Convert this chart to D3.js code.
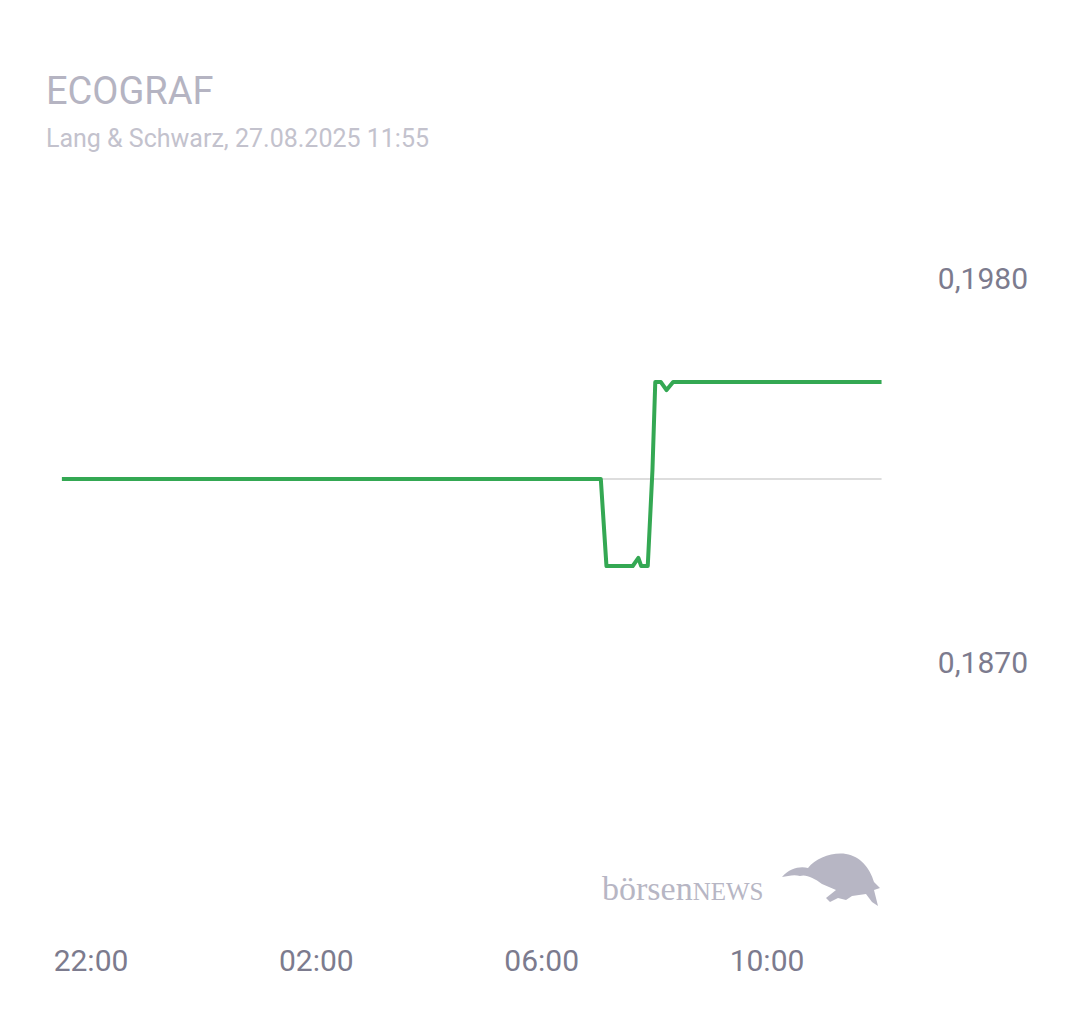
<!DOCTYPE html>
<html><head><meta charset="utf-8">
<script src="https://cdn.jsdelivr.net/npm/d3@7"></script>
<style>body{margin:0;background:#fff}svg{display:block;font-family:Roboto,sans-serif}</style>
</head><body><svg id="c" width="1080" height="1013"></svg>
<script>
// price series (Lang & Schwarz, 26./27.08.2025)
const times = ["2025-08-26 21:29","2025-08-27 07:03","2025-08-27 07:09","2025-08-27 07:37","2025-08-27 07:43","2025-08-27 07:46","2025-08-27 07:53","2025-08-27 07:58","2025-08-27 08:01","2025-08-27 08:07","2025-08-27 08:13","2025-08-27 08:20","2025-08-27 12:02"];
const prices = [0.19224,0.19224,0.18975,0.18975,0.18998,0.18975,0.18975,0.1925,0.19502,0.19502,0.19479,0.19502,0.19502];
const refPrice = 0.19224;
const yTicks = [0.1980,0.1870];
const xTicks = ["2025-08-26 22:00","2025-08-27 02:00","2025-08-27 06:00","2025-08-27 10:00"];

const parse = d3.timeParse("%Y-%m-%d %H:%M");
const data = times.map((t,i)=>({t:parse(t),v:prices[i]}));
const svg = d3.select("#c");

const x = d3.scaleTime().domain([parse("2025-08-26 22:00"),parse("2025-08-27 10:00")]).range([91,767]);
const y = d3.scaleLinear().domain([0.1870,0.1980]).range([662,278]);

svg.append("text").attr("x",46).attr("y",104).attr("font-size",38).attr("fill","#b5b4c2").text("ECOGRAF");
svg.append("text").attr("x",46).attr("y",147).attr("font-size",25).attr("fill","#c3c2cd").text("Lang & Schwarz, 27.08.2025 11:55");

svg.append("line").attr("x1",x(data[0].t)).attr("x2",x(data[data.length-1].t))
  .attr("y1",y(refPrice)).attr("y2",y(refPrice)).attr("stroke","#dddddd").attr("stroke-width",2);

svg.append("path").datum(data).attr("fill","none").attr("stroke","#34a853").attr("stroke-width",4)
  .attr("stroke-linejoin","round").attr("d",d3.line().x(d=>x(d.t)).y(d=>y(d.v)));

svg.selectAll(".yl").data(yTicks).join("text").attr("x",1028).attr("y",d=>y(d)).attr("dy","0.35em")
  .attr("text-anchor","end").attr("font-size",30).attr("fill","#7c7b8e").text(d=>d3.format(".4f")(d).replace(".",","));

svg.selectAll(".xl").data(xTicks).join("text").attr("x",d=>x(parse(d))).attr("y",971)
  .attr("text-anchor","middle").attr("font-size",30).attr("fill","#7c7b8e").text(d=>d3.timeFormat("%H:%M")(parse(d)));

// logo
const logo = svg.append("g").attr("fill","#b7b6c4");
logo.append("text").attr("x",602).attr("y",900).attr("font-family","'Liberation Serif',serif").attr("font-size",34)
  .text("börsen").append("tspan").attr("font-size",25).text("NEWS");
logo.append("path").attr("d","M782,877 C790,868 800,866 808,868 C816,858 832,852 846,854 C860,856 870,868 874,882 L880,888 L874,890 L878,906 L872,902 L866,894 L852,896 L846,900 L838,898 L830,902 L826,898 L836,890 L822,884 C814,878 806,874 800,876 C794,874 788,876 782,877 Z");
</script></body></html>
